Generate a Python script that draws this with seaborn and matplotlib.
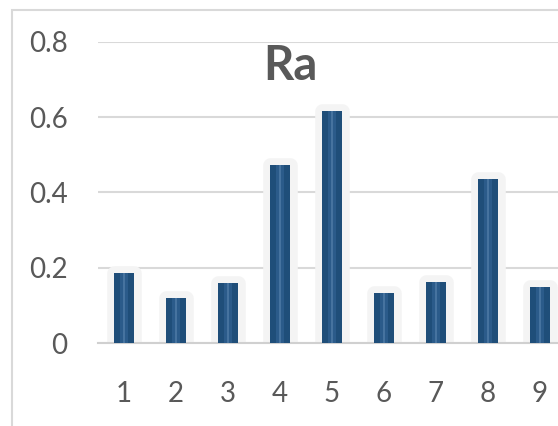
import matplotlib
matplotlib.use("Agg")
import matplotlib.pyplot as plt
import seaborn as sns
import pandas as pd

# values
categories = ["1", "2", "3", "4", "5", "6", "7", "8", "9"]
ra_values = [0.187, 0.120, 0.160, 0.473, 0.617, 0.133, 0.163, 0.435, 0.148]
y_ticks = [0, 0.2, 0.4, 0.6, 0.8]
y_tick_labels = ["0", "0.2", "0.4", "0.6", "0.8"]

df = pd.DataFrame({"cat": categories, "ra": ra_values})

sns.set_theme(style="white")
plt.rcParams["font.family"] = ["Lato", "DejaVu Sans"]

fig = plt.figure(figsize=(5.58, 4.26), dpi=100)
ax = fig.add_axes([98 / 558, 83 / 426, 1 - 98 / 558, (343 - 41.7) / 426])

# light halo behind each bar (rounded via thick round-joined edge)
sns.barplot(data=df, x="cat", y="ra", color="#f4f4f4", width=0.4,
            saturation=1, ax=ax, zorder=2)
for p in ax.patches:
    p.set_edgecolor("#f4f4f4")
    p.set_linewidth(10.5)
    p.set_joinstyle("round")

# main bars
sns.barplot(data=df, x="cat", y="ra", color="#1f4e79", width=0.4,
            saturation=1, linewidth=0, ax=ax, zorder=3)
# lighter centre stripe to hint at the cylinder shading
sns.barplot(data=df, x="cat", y="ra", color="#2b5b8a", width=0.16,
            saturation=1, linewidth=0, ax=ax, zorder=4)
sns.barplot(data=df, x="cat", y="ra", color="#46739f", width=0.035,
            saturation=1, linewidth=0, ax=ax, zorder=5)

ax.set_xlim(-0.5, (558 - 98) / 52 - 0.5)
ax.set_ylim(0, 0.8)
ax.set_yticks(y_ticks)
ax.set_yticklabels(y_tick_labels)
ax.set_xlabel("")
ax.set_ylabel("")

ax.grid(axis="y", color="#d9d9d9", linewidth=1.5, zorder=0)
ax.set_axisbelow(True)
for s in ["top", "right", "left"]:
    ax.spines[s].set_visible(False)
ax.spines["bottom"].set_color("#d0d0d0")
ax.spines["bottom"].set_linewidth(1.5)

ax.tick_params(axis="y", length=0, pad=22, labelsize=20, labelcolor="#595959")
ax.tick_params(axis="x", length=0, pad=27, labelsize=20, labelcolor="#595959")

fig.text(290 / 558, 1 - 66 / 426, "Ra", ha="center", va="center",
         fontsize=34, fontweight="bold", color="#595959")

# outer chart frame (cropped on the right and bottom)
frame = plt.Rectangle((12 / 558, -0.05), 1.1, 1 - 10 / 426 + 0.05,
                      transform=fig.transFigure, fill=False,
                      edgecolor="#d9d9d9", linewidth=1.5)
fig.patches.append(frame)

fig.savefig("out.png", dpi=100)
